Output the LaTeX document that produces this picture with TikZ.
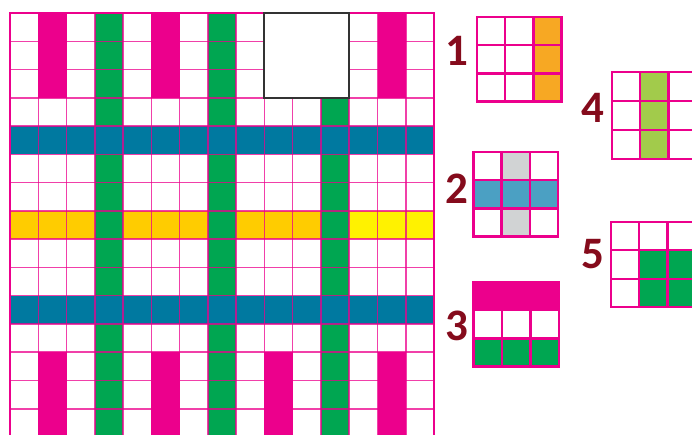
\documentclass[tikz,border=0pt]{standalone}
\usepackage{fontspec}
\newfontfamily\numfont{Carlito}

\definecolor{gridmag}{HTML}{EC008C}
\definecolor{grn}{HTML}{00A651}
\definecolor{blu}{HTML}{0079A0}
\definecolor{gold}{HTML}{FFCC00}
\definecolor{lemon}{HTML}{FFF200}
\definecolor{orng}{HTML}{F7A823}
\definecolor{lblu}{HTML}{4BA0C3}
\definecolor{lgray}{HTML}{D1D3D4}
\definecolor{lime}{HTML}{A2CB4B}
\definecolor{numred}{HTML}{850B1C}
\definecolor{sqgray}{HTML}{333333}

\begin{document}
\begin{tikzpicture}[
    x=1pt, y=-1pt,
    cellline/.style={draw=gridmag, line width=1.5pt, draw opacity=0.75},
    bigborder/.style={draw=gridmag, line width=2.2pt},
    smallline/.style={draw=gridmag, line width=2.4pt},
    numlabel/.style={font=\numfont\bfseries\fontsize{45}{45}\selectfont, text=numred, inner sep=0pt}
]
    \useasboundingbox (0,0) rectangle (692,434);
    \clip (0,0) rectangle (692,434);

    % Grand quadrillage 15 x 15
    \begin{scope}[shift={(10,13)}, x=28.27pt, y=-28.27pt]
        \fill[gold] (0,7) rectangle (12,8);
        \fill[lemon] (12,7) rectangle (15,8);
        \foreach \c in {1,5,9,13} {
            \fill[gridmag] (\c,0) rectangle ++(1,3);
            \fill[gridmag] (\c,12) rectangle ++(1,3);
        }
        \foreach \c in {3,7} \fill[grn] (\c,0) rectangle ++(1,15);
        \fill[grn] (11,3) rectangle (12,15);
        \foreach \r in {4,10} \fill[blu] (0,\r) rectangle ++(15,1);
        \foreach \i in {1,...,14} {
            \draw[cellline] (\i,0) -- (\i,15);
            \draw[cellline] (0,\i) -- (15,\i);
        }
        \draw[bigborder] (0,0) rectangle (15,15);
        % case vide
        \draw[fill=white, draw=sqgray, line width=2pt] (9,0) rectangle (12,3);
    \end{scope}

    % Petits carres
    \begin{scope}[shift={(476.7,16.7)}, x=28.3pt, y=-28.3pt]
        \fill[orng] (2,0) rectangle (3,3);
        \foreach \i in {1,2} {\draw[smallline] (\i,0) -- (\i,3); \draw[smallline] (0,\i) -- (3,\i);}
        \draw[smallline] (0,0) rectangle (3,3);
    \end{scope}
    \node[numlabel] (num1) at (457,51) {1};

    \begin{scope}[shift={(473.3,151.7)}, x=28.3pt, y=-28.3pt]
        \fill[lgray] (1,0) rectangle (2,3);
        \fill[lblu] (0,1) rectangle (3,2);
        \foreach \i in {1,2} {\draw[smallline] (\i,0) -- (\i,3); \draw[smallline] (0,\i) -- (3,\i);}
        \draw[smallline] (0,0) rectangle (3,3);
    \end{scope}
    \node[numlabel] (num2) at (457,189) {2};

    \begin{scope}[shift={(473.3,281.7)}, x=28.5pt, y=-28.3pt]
        \fill[gridmag] (0,0) rectangle (3,1);
        \fill[grn] (0,2) rectangle (3,3);
        \foreach \i in {1,2} {\draw[smallline] (\i,1) -- (\i,3); \draw[smallline] (0,\i) -- (3,\i);}
        \draw[smallline] (0,0) rectangle (3,3);
    \end{scope}
    \node[numlabel] (num3) at (457,326) {3};

    \begin{scope}[shift={(611.7,71.7)}, x=28.3pt, y=-29pt]
        \fill[lime] (1,0) rectangle (2,3);
        \foreach \i in {1,2} {\draw[smallline] (\i,0) -- (\i,3); \draw[smallline] (0,\i) -- (3,\i);}
        \draw[smallline] (0,0) rectangle (3,3);
    \end{scope}
    \node[numlabel] (num4) at (593,108) {4};

    \begin{scope}[shift={(610.7,221.7)}, x=28.3pt, y=-28.5pt]
        \fill[grn] (1,1) rectangle (3,3);
        \foreach \i in {1,2} {\draw[smallline] (\i,0) -- (\i,3); \draw[smallline] (0,\i) -- (3,\i);}
        \draw[smallline] (0,0) rectangle (3,3);
    \end{scope}
    \node[numlabel] (num5) at (593,254) {5};
\end{tikzpicture}
\end{document}
